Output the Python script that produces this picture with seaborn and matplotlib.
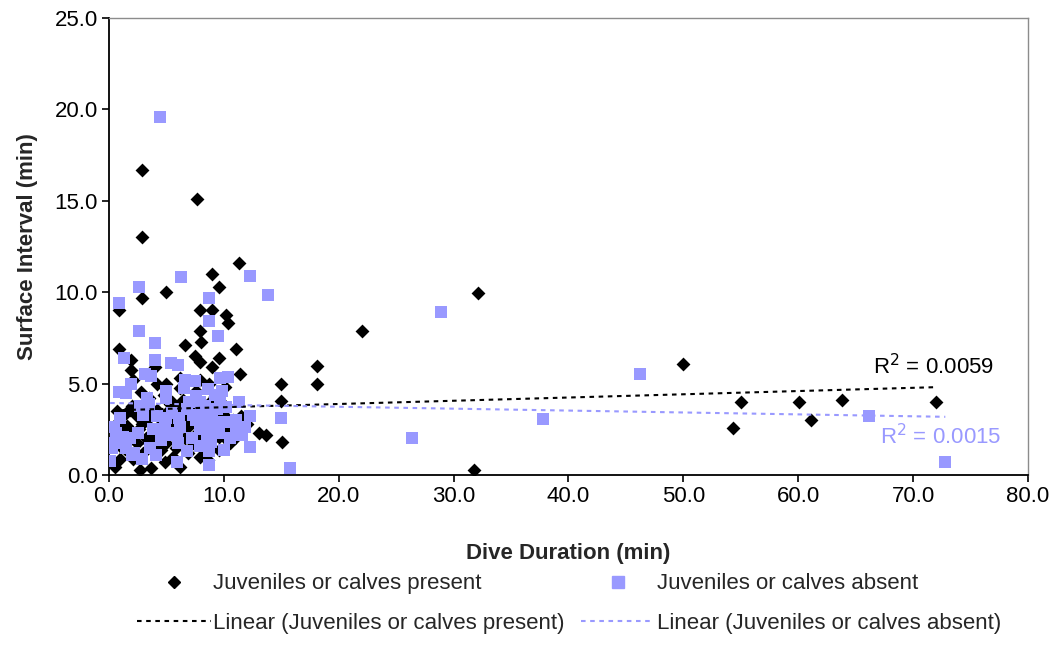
import numpy as np
import pandas as pd
import matplotlib
matplotlib.use("Agg")
import matplotlib.pyplot as plt
from matplotlib.lines import Line2D
import seaborn as sns

# ---- data ----
present_x = [2.9, 7.7, 2.9, 11.3, 9.0, 9.6, 5.0, 2.9, 0.9, 7.9, 9.0, 10.2, 10.4, 7.9, 8.0, 6.6,
             0.9, 11.1, 7.5, 7.9, 9.6, 9.0, 1.9, 1.9, 4.0, 11.4, 15.0, 2.1, 4.2, 5.0, 6.2, 6.2,
             7.9, 8.7, 10.1, 2.8, 15.0, 1.8, 0.9, 2.4, 2.9, 4.2, 4.3, 5.3, 6.2, 6.5, 7.0, 6.9,
             8.2, 8.5, 10.3, 10.3, 9.6, 13.1, 13.7, 15.1, 0.65, 0.35, 2.1, 2.4, 3.9, 5.0, 4.5,
             0.95, 0.5, 2.7, 3.7, 2.1, 6.2, 7.9, 9.0, 9.6, 7.0, 7.3, 10.5, 9.6,
             3.3, 5.6, 7.5, 8.0, 9.2, 10.8, 3.5, 1.4, 5.6, 8.6, 11.5, 4.8, 6.0, 1.5, 3.0, 7.6,
             9.0, 10.0, 5.5, 12.0,
             1.2, 2.0, 3.2, 4.0, 4.6, 5.2, 5.9, 6.6, 7.2, 8.3, 9.3, 10.6, 1.0, 2.6, 3.6, 4.4,
             5.0, 6.4, 7.7, 8.8, 1.6, 3.4, 5.8, 8.1, 9.9, 11.0, 2.3, 4.9, 6.9, 0.7,
             22.0, 18.1, 18.1, 32.1, 31.8, 50.0, 55.0, 54.3, 60.1, 61.1, 63.8, 72.0]
present_y = [16.7, 15.1, 13.0, 11.6, 11.0, 10.3, 10.0, 9.7, 9.0, 9.0, 9.0, 8.75, 8.3, 7.85, 7.3, 7.1,
             6.9, 6.9, 6.5, 6.2, 6.4, 5.9, 6.3, 5.75, 5.9, 5.5, 5.0, 5.2, 5.0, 5.0, 5.3, 4.75,
             5.2, 5.0, 4.8, 4.55, 4.05, 3.55, 2.9, 3.2, 2.8, 3.55, 2.65, 3.9, 3.55, 3.1, 3.4, 2.65,
             2.65, 3.55, 2.65, 1.9, 3.55, 2.3, 2.2, 1.8, 2.8, 1.9, 2.3, 1.75, 2.1, 1.75, 1.35,
             0.9, 0.45, 0.27, 0.37, 0.9, 0.45, 1.0, 1.9, 1.35, 2.1, 1.75, 1.75, 2.1,
             3.0, 2.9, 2.2, 3.9, 4.3, 3.0, 4.2, 1.4, 1.0, 0.8, 3.2, 4.4, 2.2, 3.4, 1.2, 4.6,
             2.6, 3.3, 4.0, 2.8,
             2.4, 3.8, 2.0, 1.6, 3.0, 2.4, 3.7, 2.0, 2.9, 1.4, 2.9, 2.3, 1.6, 2.5, 3.3, 2.2,
             3.4, 4.1, 3.6, 4.0, 2.7, 1.8, 1.5, 2.0, 3.9, 2.0, 1.1, 0.7, 1.2, 3.5,
             7.85, 5.96, 4.98, 9.97, 0.3, 6.07, 4.0, 2.55, 4.0, 3.0, 4.1, 4.0]

absent_x = [4.4, 6.3, 12.3, 2.6, 13.8, 0.9, 8.7, 8.7, 2.6, 9.5, 4.0, 1.3, 4.0, 5.4, 6.0, 3.1,
            3.7, 1.9, 0.9, 1.5, 6.6, 7.5, 9.7, 10.4, 5.0, 5.0, 3.3, 6.5, 7.6, 7.9, 9.7, 11.3,
            2.7, 1.0, 4.2, 5.0, 4.9, 6.2, 5.9, 7.6, 7.9, 8.5, 9.0, 9.0, 10.0, 11.1, 11.1, 12.3,
            15.0, 0.65, 0.5, 1.5, 2.5, 3.6, 6.0, 8.7, 8.7, 10.0, 12.3, 2.9, 5.9, 0.1, 15.8,
            6.8, 8.0, 9.4, 5.5, 3.8, 10.5, 7.2, 1.8, 4.5, 6.8, 11.8, 9.8, 3.0, 0.4,
            7.3, 8.2, 8.9, 9.6, 7.9, 8.4, 9.2, 5.3, 4.6, 2.2, 1.2, 0.3, 3.5, 6.1, 10.2, 11.6,
            7.0, 8.6, 2.0, 4.1,
            28.9, 46.2, 37.8, 26.4, 66.2, 72.8]
absent_y = [19.6, 10.85, 10.9, 10.3, 9.85, 9.4, 9.7, 8.4, 7.9, 7.6, 7.2, 6.4, 6.3, 6.1, 6.0, 5.5,
            5.4, 5.0, 4.55, 4.5, 5.2, 5.15, 5.3, 5.35, 4.6, 4.2, 4.2, 4.75, 4.3, 4.0, 4.1, 4.0,
            3.8, 3.1, 3.2, 3.1, 2.8, 2.65, 2.3, 3.0, 2.5, 2.1, 3.1, 2.55, 2.9, 3.0, 2.5, 3.2,
            3.1, 2.3, 1.75, 1.45, 2.3, 1.45, 1.75, 1.3, 0.55, 1.35, 1.55, 0.85, 0.7, 0.75, 0.37,
            3.6, 3.5, 3.6, 3.4, 2.5, 2.0, 2.0, 2.0, 1.9, 1.3, 2.6, 4.6, 3.3, 2.6,
            3.3, 2.9, 1.8, 2.3, 1.6, 3.8, 4.4, 2.2, 2.4, 1.2, 2.1, 1.5, 3.9, 3.1, 3.7, 2.2,
            4.0, 4.7, 1.1, 1.1,
            8.93, 5.5, 3.06, 2.0, 3.2, 0.7]

# linear trend lines (intercept, slope) and R² labels as shown in the reference
trend_present = (3.53, 0.0177)
trend_absent = (3.94, -0.0104)
r2_present = "R$^2$ = 0.0059"
r2_absent = "R$^2$ = 0.0015"

label_present = "Juveniles or calves present"
label_absent = "Juveniles or calves absent"

x_ticks = [0, 10, 20, 30, 40, 50, 60, 70, 80]
y_ticks = [0, 5, 10, 15, 20, 25]

# ---- figure ----
sns.set_theme(style="white")
plt.rcParams["font.family"] = ["Liberation Sans", "DejaVu Sans"]

BLACK = "#000000"
PURPLE = "#9999FF"

fig = plt.figure(figsize=(10.56, 6.62), dpi=100)
ax = fig.add_axes([0.1032, 0.2825, 0.8703, 0.6903])

df = pd.DataFrame({
    "x": present_x + absent_x,
    "y": present_y + absent_y,
    "group": [label_present] * len(present_x) + [label_absent] * len(absent_x),
})

sns.scatterplot(data=df[df.group == label_present], x="x", y="y", color=BLACK, marker="D",
                s=50, linewidth=0, ax=ax, legend=False, zorder=3)
sns.scatterplot(data=df[df.group == label_absent], x="x", y="y", color=PURPLE, marker="s",
                s=70, linewidth=0, ax=ax, legend=False, zorder=3)

def trend_df(xs, coef):
    xr = np.array([min(xs), max(xs)])
    return pd.DataFrame({"x": xr, "y": coef[0] + coef[1] * xr})

dash = (0, (2.2, 2.2))
tp = trend_df(present_x, trend_present)
ta = trend_df(absent_x, trend_absent)
sns.lineplot(data=tp, x="x", y="y", color=BLACK, lw=1.5, ax=ax, zorder=4)
ax.lines[-1].set_linestyle(dash)
sns.lineplot(data=ta, x="x", y="y", color=PURPLE, lw=1.5, ax=ax, zorder=4)
ax.lines[-1].set_linestyle(dash)

ax.text(66.5, 5.95, r2_present, fontsize=16, color=BLACK, ha="left", va="center")
ax.text(67.1, 2.08, r2_absent, fontsize=16, color=PURPLE, ha="left", va="center")

ax.set_xlim(0, 80)
ax.set_ylim(0, 25)
ax.set_xticks(x_ticks)
ax.set_yticks(y_ticks)
ax.set_xticklabels([f"{v:.1f}" for v in x_ticks])
ax.set_yticklabels([f"{v:.1f}" for v in y_ticks])
ax.tick_params(axis="both", direction="out", length=5, width=1.2, color=BLACK,
               labelsize=16, labelcolor=BLACK, pad=3, bottom=True, left=True)

for side in ["left", "bottom"]:
    ax.spines[side].set_color(BLACK)
    ax.spines[side].set_linewidth(1.3)
for side in ["top", "right"]:
    ax.spines[side].set_visible(True)
    ax.spines[side].set_color("#8c8c8c")
    ax.spines[side].set_linewidth(1.0)

ax.set_xlabel("Dive Duration (min)", fontsize=16, fontweight="bold", labelpad=26)
ax.set_ylabel("Surface Interval (min)", fontsize=16, fontweight="bold", labelpad=12)

handles = [
    Line2D([], [], color=BLACK, marker="D", markersize=6, linestyle="none"),
    Line2D([], [], color=BLACK, lw=1.5, linestyle=dash),
    Line2D([], [], color=PURPLE, marker="s", markersize=8, linestyle="none"),
    Line2D([], [], color=PURPLE, lw=1.5, linestyle=dash),
]
labels = [label_present, "Linear (" + label_present + ")",
          label_absent, "Linear (" + label_absent + ")"]
fig.legend(handles, labels, ncol=2, loc="center", bbox_to_anchor=(0.539, 0.088),
           frameon=False, fontsize=16, handlelength=3.3, handletextpad=0.1,
           columnspacing=0.75, labelspacing=0.85)

fig.savefig("out.png", dpi=100)
